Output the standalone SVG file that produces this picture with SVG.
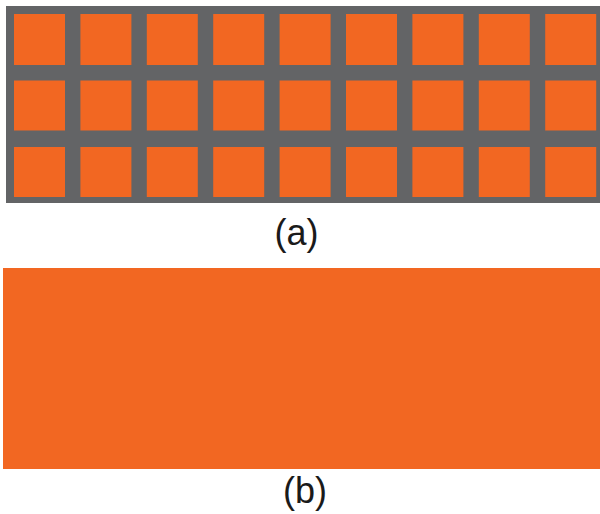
<svg xmlns="http://www.w3.org/2000/svg" width="600" height="514" viewBox="0 0 600 514">
<style>
.sq{fill:#F26722}
.lbl{font-family:"Liberation Sans",Arial,sans-serif;font-size:36px;fill:#1a1a1a;text-anchor:middle}
</style>
<rect width="600" height="514" fill="#fff"/>
<g id="grid">
<rect x="6" y="6" width="600" height="197" fill="#636466"/>
<g id="row1">
<rect class="sq" x="14" y="14" width="51" height="51"/>
<rect class="sq" x="80.4" y="14" width="51" height="51"/>
<rect class="sq" x="146.8" y="14" width="51" height="51"/>
<rect class="sq" x="213.2" y="14" width="51" height="51"/>
<rect class="sq" x="279.6" y="14" width="51" height="51"/>
<rect class="sq" x="346" y="14" width="51" height="51"/>
<rect class="sq" x="412.4" y="14" width="51" height="51"/>
<rect class="sq" x="478.8" y="14" width="51" height="51"/>
<rect class="sq" x="545.2" y="14" width="51" height="51"/>
</g>
<g id="row2">
<rect class="sq" x="14" y="80.5" width="51" height="50"/>
<rect class="sq" x="80.4" y="80.5" width="51" height="50"/>
<rect class="sq" x="146.8" y="80.5" width="51" height="50"/>
<rect class="sq" x="213.2" y="80.5" width="51" height="50"/>
<rect class="sq" x="279.6" y="80.5" width="51" height="50"/>
<rect class="sq" x="346" y="80.5" width="51" height="50"/>
<rect class="sq" x="412.4" y="80.5" width="51" height="50"/>
<rect class="sq" x="478.8" y="80.5" width="51" height="50"/>
<rect class="sq" x="545.2" y="80.5" width="51" height="50"/>
</g>
<g id="row3">
<rect class="sq" x="14" y="147" width="51" height="50"/>
<rect class="sq" x="80.4" y="147" width="51" height="50"/>
<rect class="sq" x="146.8" y="147" width="51" height="50"/>
<rect class="sq" x="213.2" y="147" width="51" height="50"/>
<rect class="sq" x="279.6" y="147" width="51" height="50"/>
<rect class="sq" x="346" y="147" width="51" height="50"/>
<rect class="sq" x="412.4" y="147" width="51" height="50"/>
<rect class="sq" x="478.8" y="147" width="51" height="50"/>
<rect class="sq" x="545.2" y="147" width="51" height="50"/>
</g>
</g>
<text class="lbl" x="296.5" y="245">(a)</text>
<rect id="solid" class="sq" x="3" y="268" width="600" height="201"/>
<text class="lbl" x="305" y="502.5">(b)</text>
</svg>
